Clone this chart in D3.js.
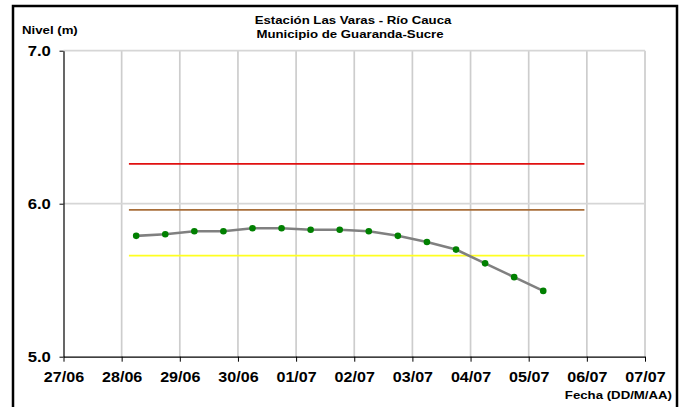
<!DOCTYPE html>
<html>
<head>
<meta charset='utf-8'>
<title>Estación Las Varas - Río Cauca</title>
<script src='https://d3js.org/d3.v7.min.js'></script>
<style>
  body { margin: 0; background: #fff; }
  svg { display: block; }
  text { font-family: "Liberation Sans", Arial, sans-serif; font-weight: bold; fill: #000; }
</style>
</head>
<body>
<div id="container"></div>
<script>

// data
const fechas = ["2010-06-28T06:00", "2010-06-28T18:00", "2010-06-29T06:00", "2010-06-29T18:00",
                "2010-06-30T06:00", "2010-06-30T18:00", "2010-07-01T06:00", "2010-07-01T18:00",
                "2010-07-02T06:00", "2010-07-02T18:00", "2010-07-03T06:00", "2010-07-03T18:00",
                "2010-07-04T06:00", "2010-07-04T18:00", "2010-07-05T06:00"];
const nivel = [5.79, 5.80, 5.82, 5.82, 5.84, 5.84, 5.83, 5.83, 5.82, 5.79, 5.75, 5.70, 5.61, 5.52, 5.43];

// alert levels (red, orange/brown, yellow)
const umbrales = [6.26, 5.96, 5.66];
const umbralColores = ["#e01010", "#a86e3a", "#ffff20"];
const umbralInicio = "2010-06-28T03:00",
      umbralFin = "2010-07-05T23:00";

const yTicks = [5.0, 6.0, 7.0];
const xTicks = ["2010-06-27", "2010-06-28", "2010-06-29", "2010-06-30", "2010-07-01", "2010-07-02",
                "2010-07-03", "2010-07-04", "2010-07-05", "2010-07-06", "2010-07-07"];

const width = 682,
      height = 407,
      margin = {top: 50.7, bottom: 50.3, left: 63.5, right: 37};

const stretch = 1.15;  // the original fonts look horizontally stretched

const parse = d3.timeParse("%Y-%m-%dT%H:%M"),
      parseDay = d3.timeParse("%Y-%m-%d");

const serie = fechas.map((f, i) => ({t: parse(f), v: nivel[i]}));
const diasEje = xTicks.map(parseDay);

const x = d3.scaleTime()
    .domain([diasEje[0], diasEje[diasEje.length - 1]])
    .range([margin.left, width - margin.right]);

const y = d3.scaleLinear()
    .domain([5, 7])
    .range([height - margin.bottom, margin.top]);

const svg = d3.select("#container")
  .append("svg")
    .attr("width", width)
    .attr("height", height);

function label(px, py, txt, size, anchor) {
  svg.append("text")
    .attr("transform", `translate(${px},${py}) scale(${stretch},1)`)
    .attr("text-anchor", anchor)
    .style("font-size", size + "px")
    .text(txt);
}

// gridlines
svg.append("g")
  .selectAll("line")
  .data(diasEje.slice(1))
  .join("line")
    .attr("x1", d => x(d)).attr("x2", d => x(d))
    .attr("y1", y(7)).attr("y2", y(5))
    .attr("stroke", "#cdcdcd")
    .attr("stroke-width", 1.7);

svg.append("g")
  .selectAll("line")
  .data(yTicks.slice(1))
  .join("line")
    .attr("x1", margin.left).attr("x2", width - margin.right)
    .attr("y1", d => y(d)).attr("y2", d => y(d))
    .attr("stroke", "#d6d6d6")
    .attr("stroke-width", 1.7);

// threshold lines
svg.append("g")
  .selectAll("line")
  .data(umbrales)
  .join("line")
    .attr("x1", x(parse(umbralInicio)))
    .attr("x2", x(parse(umbralFin)))
    .attr("y1", d => y(d)).attr("y2", d => y(d))
    .attr("stroke", (d, i) => umbralColores[i])
    .attr("stroke-width", 1.8);

// axes
const xAxis = svg.append("g")
    .attr("transform", `translate(0,${y(5)})`)
    .call(d3.axisBottom(x).tickValues(diasEje).tickFormat(d3.timeFormat("%d/%m")).tickSize(5).tickSizeOuter(0));
xAxis.select(".domain").attr("stroke", "#000").attr("stroke-width", 1.2);
xAxis.selectAll(".tick line").attr("stroke", "#000");
xAxis.selectAll("text")
    .attr("y", 25.5).attr("dy", 0)
    .attr("transform", `scale(${stretch},1)`)
    .style("font-size", "14px")
    .style("font-family", null);

const yAxis = svg.append("g")
    .attr("transform", `translate(${margin.left},0)`)
    .call(d3.axisLeft(y).tickValues(yTicks).tickFormat(d3.format(".1f")).tickSize(4).tickSizeOuter(0));
yAxis.select(".domain").attr("stroke", "#000").attr("stroke-width", 1.2);
yAxis.selectAll(".tick line").attr("stroke", "#000");
yAxis.selectAll("text")
    .attr("x", -11).attr("dy", "0.32em")
    .attr("transform", `scale(${stretch},1)`)
    .style("font-size", "14.5px")
    .style("font-family", null);

// series
svg.append("path")
    .datum(serie)
    .attr("fill", "none")
    .attr("stroke", "#808080")
    .attr("stroke-width", 2.6)
    .attr("d", d3.line().x(d => x(d.t)).y(d => y(d.v)));

svg.append("g")
  .selectAll("circle")
  .data(serie)
  .join("circle")
    .attr("cx", d => x(d.t))
    .attr("cy", d => y(d.v))
    .attr("r", 3.3)
    .attr("fill", "#008000");

// texts
label(353, 24, "Estación Las Varas - Río Cauca", 11.5, "middle");
label(350, 37.5, "Municipio de Guaranda-Sucre", 11.5, "middle");
label(22, 34, "Nivel (m)", 11.5, "start");
label(672, 399, "Fecha (DD/M/AA)", 11.5, "end");

// outer frame
svg.append("rect")
    .attr("x", 13).attr("y", 6)
    .attr("width", 664).attr("height", 440)
    .attr("fill", "none")
    .attr("stroke", "#000")
    .attr("stroke-width", 2.5);

</script>
</body>
</html>
